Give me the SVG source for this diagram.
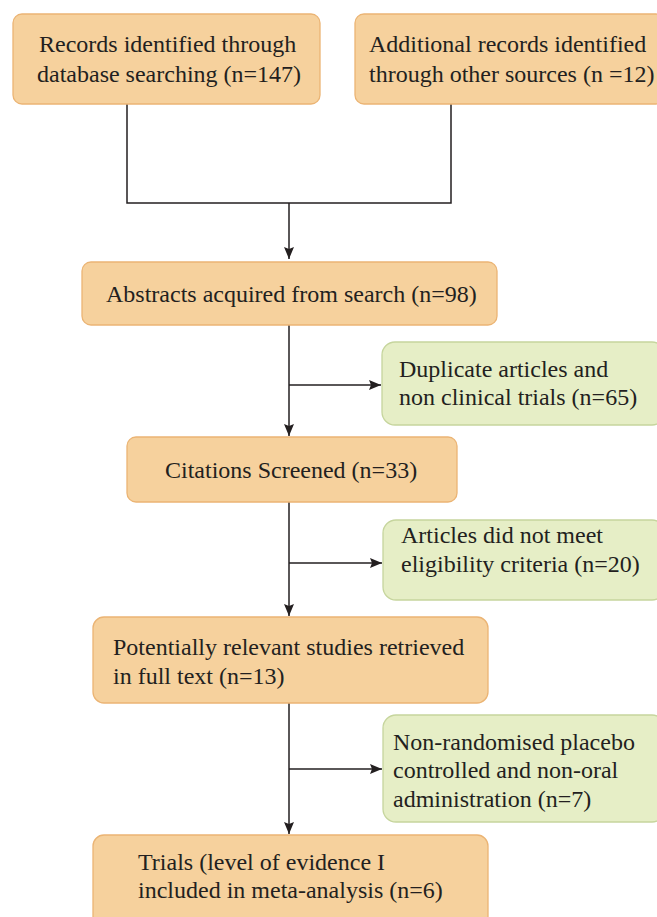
<svg xmlns="http://www.w3.org/2000/svg" width="657" height="917" viewBox="0 0 657 917">
<defs>
<marker id="arr" viewBox="0 0 12 12" refX="12" refY="6" markerWidth="12" markerHeight="12" markerUnits="userSpaceOnUse" orient="auto">
<path d="M0,1 L12,6 L0,11 L2,6 Z" fill="#231f20"/>
</marker>
<style>
.o{fill:#f6d19d;stroke:#ebb474;stroke-width:1.3}
.g{fill:#e6eec6;stroke:#c6d59d;stroke-width:1.3}
text{font-family:"Liberation Serif","Times New Roman",serif;font-size:24px;fill:#231f20}
.c{fill:none;stroke:#231f20;stroke-width:1.5}
</style>
</defs>
<g id="connectors">
<path class="c" d="M127,104 V203 H451 V104"/>
<path class="c" d="M289,203 V259" marker-end="url(#arr)"/>
<path class="c" d="M289,325 V436" marker-end="url(#arr)"/>
<path class="c" d="M289,385 H381" marker-end="url(#arr)"/>
<path class="c" d="M289,502 V616" marker-end="url(#arr)"/>
<path class="c" d="M289,563 H382" marker-end="url(#arr)"/>
<path class="c" d="M289,703 V834" marker-end="url(#arr)"/>
<path class="c" d="M289,769 H382" marker-end="url(#arr)"/>
</g>
<g id="n1"><rect class="o" x="13" y="14" width="307" height="90" rx="9"/>
<text x="39" y="52">Records identified through</text><text x="37" y="82">database searching (n=147)</text></g>
<g id="n2"><rect class="o" x="355" y="14" width="310" height="90" rx="9"/>
<text x="369" y="52">Additional records identified</text><text x="369" y="82">through other sources (n =12)</text></g>
<g id="n3"><rect class="o" x="82" y="262" width="415" height="63" rx="9"/>
<text x="106" y="302">Abstracts acquired from search (n=98)</text></g>
<g id="n4"><rect class="g" x="382" y="342" width="283" height="83" rx="13"/>
<text x="399" y="377">Duplicate articles and</text><text x="399" y="405">non clinical trials (n=65)</text></g>
<g id="n5"><rect class="o" x="127" y="437" width="330" height="65" rx="9"/>
<text x="165" y="478">Citations Screened (n=33)</text></g>
<g id="n6"><rect class="g" x="383" y="520" width="282" height="80" rx="13"/>
<text x="401" y="543">Articles did not meet</text><text x="401" y="572">eligibility criteria (n=20)</text></g>
<g id="n7"><rect class="o" x="93" y="617" width="395" height="86" rx="11"/>
<text x="113" y="655">Potentially relevant studies retrieved</text><text x="113" y="684">in full text (n=13)</text></g>
<g id="n8"><rect class="g" x="383" y="715" width="282" height="107" rx="13"/>
<text x="393" y="750">Non-randomised placebo</text><text x="393" y="778">controlled and non-oral</text><text x="393" y="807">administration (n=7)</text></g>
<g id="n9"><rect class="o" x="93" y="835" width="395" height="95" rx="11"/>
<text x="138" y="870">Trials (level of evidence I</text><text x="138" y="898">included in meta-analysis (n=6)</text></g>
</svg>
